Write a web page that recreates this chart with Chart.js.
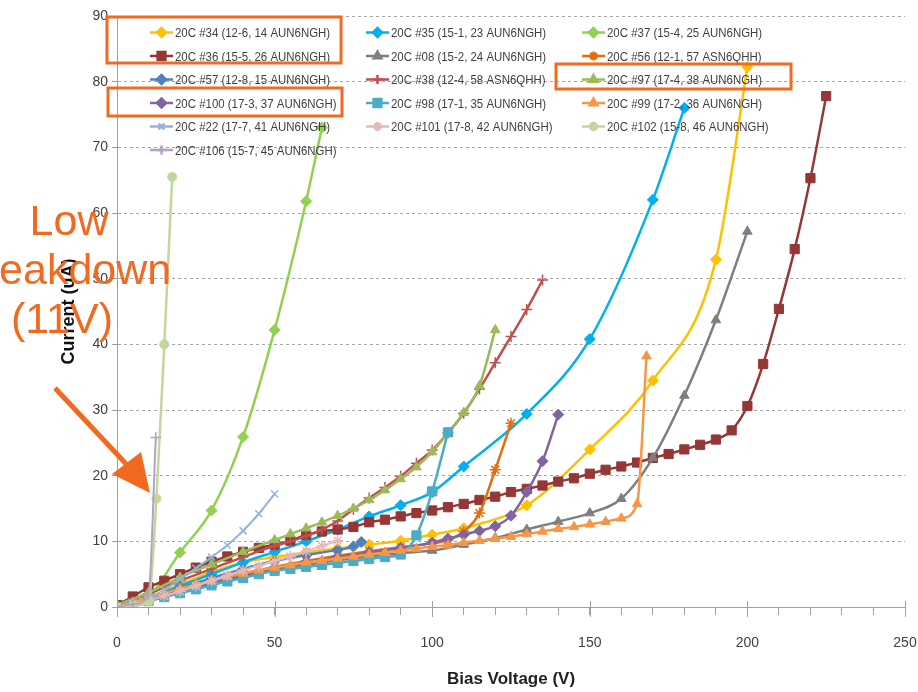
<!DOCTYPE html>
<html>
<head>
<meta charset="utf-8">
<script src="https://cdn.jsdelivr.net/npm/chart.js@4.4.1/dist/chart.umd.min.js"></script>
<style>
  body { margin: 0; background: #fff; }
  .wrap { position: relative; width: 918px; height: 692px; overflow: hidden; }
  .note {
    position: absolute; width: 300px; text-align: center; color: #f26a21;
    font: 43px/49px "Liberation Sans", Arial, sans-serif;
  }
</style>
</head>
<body>
<div class="wrap">
  <canvas id="iv" width="918" height="692"></canvas>
  <div class="note" style="left:-81px; top:196px">Low</div>
  <div class="note" style="left:-84px; top:245px">breakdown</div>
  <div class="note" style="left:-88px; top:294px">(11V)</div>
</div>
<script>
// legend names, in Excel legend order (row by row)
const names = [
  '20C #34 (12-6, 14 AUN6NGH)', '20C #35 (15-1, 23 AUN6NGH)', '20C #37 (15-4, 25 AUN6NGH)',
  '20C #36 (15-5, 26 AUN6NGH)', '20C #08 (15-2, 24 AUN6NGH)', '20C #56 (12-1, 57 ASN6QHH)',
  '20C #57 (12-8, 15 AUN6NGH)', '20C #38 (12-4, 58 ASN6QHH)', '20C #97 (17-4, 38 AUN6NGH)',
  '20C #100 (17-3, 37 AUN6NGH)', '20C #98 (17-1, 35 AUN6NGH)', '20C #99 (17-2, 36 AUN6NGH)',
  '20C #22 (17-7, 41 AUN6NGH)', '20C #101 (17-8, 42 AUN6NGH)', '20C #102 (15-8, 46 AUN6NGH)',
  '20C #106 (15-7, 45 AUN6NGH)'
]
const colors = ['#ffc000', '#00b0f0', '#92d050', '#953735', '#7f7f7f', '#e46c0a', '#4f81bd', '#c0504d',
  '#9bbb59', '#8064a2', '#4bacc6', '#f79646', '#95b3d7', '#e6b9b8', '#c3d69b', '#b3a2c7']
const markers = ['rectRot', 'rectRot', 'rectRot', 'rect', 'triangle', 'star', 'rectRot', 'cross',
  'triangle', 'rectRot', 'rect', 'triangle', 'crossRot', 'star', 'circle', 'cross']

// bias voltage (V) and current (uA) per device
const v34 = [0, 10, 20, 30, 40, 50, 60, 70, 80, 90, 100, 110, 130, 150, 170, 190, 200]
const i34 = [0, 1.5, 3.4, 5.3, 6.8, 7.6, 8.3, 8.9, 9.5, 10.1, 11.0, 12.0, 15.5, 24.0, 34.5, 52.9, 82.2]
const v35 = [0, 10, 20, 30, 40, 50, 60, 70, 80, 90, 100, 110, 130, 150, 170, 180]
const i35 = [0, 1.4, 3.2, 5.0, 6.8, 8.4, 10.0, 11.8, 13.8, 15.5, 17.5, 21.4, 29.4, 40.8, 62.0, 76.0]
const v37 = [0, 5, 10, 20, 30, 40, 50, 60, 65]
const i37 = [0, 0.4, 1.5, 8.3, 14.7, 25.9, 42.2, 61.8, 73.0]
const v36 = [0, 5, 10, 15, 20, 25, 30, 35, 40, 45, 50, 55, 60, 65, 70, 75, 80, 85, 90, 95, 100, 105, 110,
  115, 120, 125, 130, 135, 140, 145, 150, 155, 160, 165, 170, 175, 180, 185, 190, 195, 200, 205, 210, 215, 220, 225]
const i36 = [0.3, 1.6, 3.0, 4.0, 5.0, 6.0, 6.9, 7.7, 8.4, 9.0, 9.5, 10.1, 11.0, 11.5, 11.8, 12.2, 12.9, 13.3, 13.8,
  14.3, 14.7, 15.2, 15.7, 16.3, 16.8, 17.5, 18.0, 18.5, 19.1, 19.6, 20.3, 20.9, 21.4, 22.0, 22.7, 23.3, 24.0, 24.7,
  25.5, 26.9, 30.6, 37.0, 45.4, 54.5, 65.3, 77.8]
const v08 = [0, 10, 20, 30, 40, 50, 60, 70, 80, 90, 100, 110, 120, 130, 140, 150, 160, 170, 180, 190, 200]
const i08 = [0, 1.0, 2.3, 3.5, 4.6, 5.6, 6.4, 7.1, 7.7, 8.2, 8.6, 9.5, 10.5, 11.8, 13.0, 14.3, 16.5, 22.7, 32.2, 43.7, 57.2]
const v56 = [0, 10, 20, 30, 40, 50, 60, 70, 80, 90, 100, 105, 110, 115, 120, 125]
const i56 = [0, 1.2, 2.6, 3.9, 5.1, 6.1, 7.0, 7.8, 8.5, 9.1, 9.7, 10.2, 11.5, 14.3, 20.9, 28.0]
const v57 = [0, 10, 20, 30, 40, 50, 60, 70, 75, 77.5]
const i57 = [0, 1.3, 2.9, 4.4, 5.8, 7.0, 7.9, 8.7, 9.2, 9.9]
const v38 = [0, 10, 20, 30, 40, 50, 55, 60, 65, 70, 75, 80, 85, 90, 95, 100, 105, 110, 115, 120, 125, 130, 135]
const i38 = [0.2, 2.0, 4.0, 5.8, 7.6, 9.3, 10.0, 10.8, 11.8, 13.1, 14.9, 16.6, 18.2, 19.9, 21.9, 23.9, 26.5, 29.5,
  33.2, 37.2, 41.2, 45.3, 49.8]
const v97 = [0, 10, 20, 30, 40, 50, 55, 60, 65, 70, 75, 80, 85, 90, 95, 100, 105, 110, 115, 120]
const i97 = [0.3, 2.2, 4.5, 6.5, 8.4, 10.2, 11.1, 12.0, 12.9, 13.9, 15.0, 16.3, 17.8, 19.5, 21.3, 23.6, 26.5, 29.6, 33.7, 42.2]
const v100 = [0, 10, 20, 30, 40, 50, 60, 70, 80, 90, 100, 105, 110, 115, 120, 125, 130, 135, 140]
const i100 = [0, 1.1, 2.4, 3.6, 4.8, 5.9, 6.8, 7.6, 8.3, 9.0, 9.8, 10.4, 11.0, 11.6, 12.3, 13.9, 17.5, 22.2, 29.3]
const v98 = [0, 5, 10, 15, 20, 25, 30, 35, 40, 45, 50, 55, 60, 65, 70, 75, 80, 85, 90, 95, 100, 105]
const i98 = [0, 0.5, 0.9, 1.5, 2.1, 2.7, 3.3, 3.9, 4.4, 5.0, 5.5, 5.8, 6.1, 6.4, 6.7, 7.0, 7.3, 7.6, 8.0, 10.9, 17.6, 26.6]
const v99 = [0, 5, 10, 15, 20, 25, 30, 35, 40, 45, 50, 55, 60, 65, 70, 75, 80, 85, 90, 95, 100, 105, 110,
  115, 120, 125, 130, 135, 140, 145, 150, 155, 160, 165, 168]
const i99 = [0, 0.7, 1.4, 2.1, 2.8, 3.4, 4.0, 4.6, 5.1, 5.6, 6.0, 6.4, 6.8, 7.1, 7.4, 7.7, 8.0, 8.3, 8.6, 8.9,
  9.2, 9.4, 9.8, 10.1, 10.4, 10.7, 11.1, 11.5, 11.9, 12.2, 12.6, 13.0, 13.5, 15.7, 38.2]
const v22 = [0, 5, 10, 15, 20, 25, 30, 35, 40, 45, 50]
const i22 = [0, 0.4, 1.2, 2.6, 4.2, 5.9, 7.6, 9.4, 11.6, 14.2, 17.2]
const v101 = [0, 5, 10, 15, 20, 25, 30, 35, 40, 45, 50, 55, 60, 65, 70]
const i101 = [0, 0.5, 1.0, 1.7, 2.4, 3.2, 4.0, 4.8, 5.6, 6.3, 7.0, 7.7, 8.5, 9.3, 10.1]
const v102 = [0, 5, 10, 12.5, 15, 17.5]
const i102 = [0, 0.2, 0.8, 16.5, 40.0, 65.5]
const v106 = [0, 5, 10, 12.3]
const i106 = [0, 0.4, 1.8, 25.8]

const volts = [v34, v35, v37, v36, v08, v56, v57, v38, v97, v100, v98, v99, v22, v101, v102, v106]
const amps = [i34, i35, i37, i36, i08, i56, i57, i38, i97, i100, i98, i99, i22, i101, i102, i106]

const yTicks = [0, 10, 20, 30, 40, 50, 60, 70, 80, 90]
const xTicks = [0, 10, 20, 30, 40, 50, 60, 70, 80, 90, 100, 110, 120, 130, 140, 150, 160, 170, 180, 190, 200,
  210, 220, 230, 240, 250]
const xLabels = [0, 50, 100, 150, 200, 250]

const ORANGE = '#f26a21'
const AXIS = '#a0a0a0'
const thinOnes = ['crossRot', 'star', 'cross']
const sizes = { rect: 6.5, rectRot: 5.5, triangle: 5.5, circle: 4.5, star: 5.5, cross: 5.5, crossRot: 5 }

const datasets = names.map((name, k) => ({
  label: name,
  data: volts[k].map((v, j) => ({ x: v, y: amps[k][j] })),
  borderColor: colors[k],
  backgroundColor: colors[k],
  borderWidth: k >= 12 && k != 14 ? 2 : 2.5,
  pointStyle: markers[k],
  pointRadius: sizes[markers[k]],
  pointBorderWidth: thinOnes.includes(markers[k]) ? 1.5 : 1,
  showLine: true,
  cubicInterpolationMode: 'monotone',
  order: names.length - k   // later series on top, as in Excel
}))

// legend inside the plot, major x ticks, and the orange call-outs
const overlay = {
  id: 'overlay',
  afterDraw(chart) {
    const c = chart.ctx
    const xs = chart.scales.x
    c.save()
    c.strokeStyle = AXIS
    c.lineWidth = 1
    xLabels.forEach(v => {
      const px = Math.round(xs.getPixelForValue(v)) + 0.5
      c.beginPath(); c.moveTo(px, xs.top - 6); c.lineTo(px, xs.top + 10); c.stroke()
    })

    const colX = [150, 366, 582]
    datasets.forEach((ds, k) => {
      const x = colX[k % 3], y = 32.5 + Math.floor(k / 3) * 23.5
      c.strokeStyle = ds.borderColor
      c.lineWidth = 2.5
      c.beginPath(); c.moveTo(x, y); c.lineTo(x + 23, y); c.stroke()
      c.fillStyle = ds.backgroundColor
      Chart.helpers.drawPoint(c, { pointStyle: ds.pointStyle, radius: ds.pointRadius - 1, rotation: 0, borderWidth: ds.pointBorderWidth }, x + 11.5, y)
      c.fillStyle = '#404040'
      c.font = '13px "Liberation Sans", Arial, sans-serif'
      c.textBaseline = 'middle'
      c.save(); c.translate(x + 25, y + 1); c.scale(0.88, 1); c.fillText(ds.label, 0, 0); c.restore()
    })

    c.strokeStyle = ORANGE
    c.lineWidth = 3
    c.strokeRect(107, 17, 234, 46)
    c.strokeRect(108, 88, 234, 28)
    c.strokeRect(556, 64, 235, 25)

    // arrow pointing at the low-breakdown device
    c.lineWidth = 5
    c.beginPath(); c.moveTo(55, 388); c.lineTo(128, 466); c.stroke()
    c.fillStyle = ORANGE
    c.beginPath(); c.moveTo(150, 493); c.lineTo(112, 474); c.lineTo(141, 452); c.closePath(); c.fill()
    c.restore()
  }
}

const tickFont = { family: '"Liberation Sans", Arial, sans-serif', size: 14 }
const titleFont = { family: '"Liberation Sans", Arial, sans-serif', size: 17, weight: 'bold' }

new Chart(document.getElementById('iv'), {
  type: 'scatter',
  data: { datasets },
  plugins: [overlay],
  options: {
    responsive: false,
    animation: false,
    layout: { padding: { left: 50, right: 13, top: 16, bottom: 0 } },
    plugins: { legend: { display: false }, tooltip: { enabled: false } },
    scales: {
      x: {
        type: 'linear', min: 0, max: 250,
        afterFit: s => { s.height = 85; s.paddingLeft = 0; s.paddingRight = 0 },
        afterBuildTicks: s => { s.ticks = xTicks.map(v => ({ value: v })) },
        ticks: {
          autoSkip: false, maxRotation: 0, padding: 20, color: '#404040', font: tickFont,
          callback: v => xLabels.includes(v) ? v : ''
        },
        grid: { drawOnChartArea: false, tickLength: 8, tickColor: AXIS },
        border: { color: AXIS },
        title: { display: true, text: 'Bias Voltage (V)', color: '#222', padding: { top: 0, bottom: 2 }, font: titleFont }
      },
      y: {
        min: 0, max: 90,
        afterFit: s => { s.width = 67 },
        afterBuildTicks: s => { s.ticks = yTicks.map(v => ({ value: v })) },
        ticks: { padding: 4, color: '#404040', font: tickFont },
        grid: { color: t => t.tick && t.tick.value === 0 ? 'rgba(0,0,0,0)' : '#a6a6a6', tickLength: 5, tickColor: AXIS },
        border: { color: AXIS, dash: [3, 3] },
        title: { display: true, text: 'Current (uA)', color: '#111', padding: { top: 8, bottom: 0 },
          font: { family: '"Liberation Sans", Arial, sans-serif', size: 18, weight: 'bold' } }
      }
    }
  }
})
</script>
</body>
</html>
